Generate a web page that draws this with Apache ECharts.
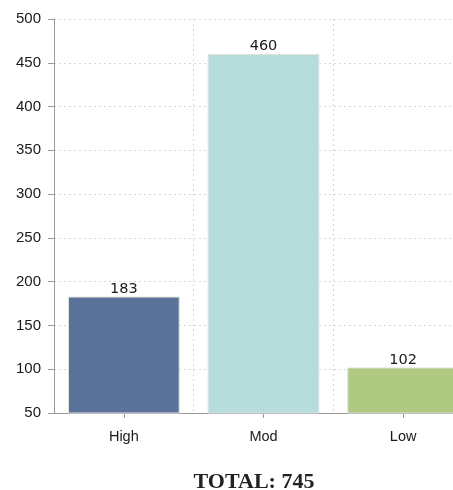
<!DOCTYPE html>
<html>
<head>
<meta charset="utf-8">
<script src="https://cdn.jsdelivr.net/npm/echarts@6/dist/echarts.min.js"></script>
<style>
  html, body { margin: 0; padding: 0; background: #fff; overflow: hidden; }
  #chart { width: 473px; height: 490px; }
</style>
</head>
<body>
<div id="chart"></div>
<script>
// Risk level counts
const categories = ['High', 'Mod', 'Low'];
const counts = [183, 460, 102];
const barColors = ['#5b7399', '#b6dcdc', '#afc882'];
const yTicks = { min: 50, max: 500, step: 50 };

const total = counts.reduce((a, b) => a + b, 0);

const chart = echarts.init(document.getElementById('chart'), null, { renderer: 'canvas' });

chart.setOption({
  animation: false,
  grid: { left: 54, top: 19, width: 419, height: 394 },
  xAxis: {
    type: 'category',
    data: categories,
    axisLine: { lineStyle: { color: '#999', width: 1 } },
    axisTick: { show: true, alignWithLabel: true, length: 5, lineStyle: { color: '#999' } },
    axisLabel: { color: '#1a1a1a', fontSize: 14.5, fontFamily: 'Liberation Sans, Arial', margin: 16 },
    splitLine: { show: true, lineStyle: { color: '#d8d8d8', type: [2, 3] } }
  },
  yAxis: {
    type: 'value',
    min: yTicks.min,
    max: yTicks.max,
    interval: yTicks.step,
    axisLine: { show: true, lineStyle: { color: '#999', width: 1 } },
    axisTick: { show: true, length: 6, lineStyle: { color: '#999' } },
    axisLabel: { color: '#1a1a1a', fontSize: 15, fontFamily: 'Liberation Sans, Arial', margin: 13 },
    splitLine: { show: true, lineStyle: { color: '#d8d8d8', type: [2, 3] } }
  },
  series: [{
    type: 'bar',
    barWidth: '80%',
    data: counts.map((v, i) => ({
      value: v,
      itemStyle: { color: barColors[i], borderColor: '#e2e2e2', borderWidth: 1 }
    })),
    label: {
      show: true,
      position: 'top',
      distance: 0,
      color: '#1a1a1a',
      fontSize: 14.5,
      fontFamily: 'DejaVu Sans, Lato, sans-serif'
    }
  }],
  graphic: [{
    type: 'text',
    x: 254,
    y: 482,
    style: {
      text: 'TOTAL: ' + total,
      font: 'bold 22px "Liberation Serif", serif',
      fill: '#222',
      textAlign: 'center',
      textVerticalAlign: 'middle'
    }
  }]
});
</script>
</body>
</html>
